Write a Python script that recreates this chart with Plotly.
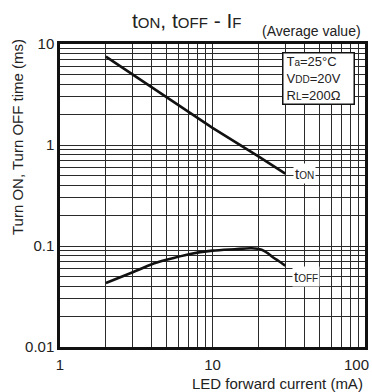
import plotly.graph_objects as go

# ---- data ----
current_on = [2, 5, 10, 20, 30]
t_on = [7.5, 3.0, 1.48, 0.77, 0.52]

current_off = [2, 3, 4, 5, 7, 10, 14, 18, 21, 23, 25, 27, 30]
t_off = [0.043, 0.055, 0.066, 0.073, 0.083, 0.090, 0.093, 0.095, 0.092, 0.085, 0.077, 0.0715, 0.064]

x_grid = [m * 10 ** d for d in range(0, 2) for m in range(1, 10)] + [100]
x_text = [str(v) if v in (1, 10) else "" for v in x_grid]
x_last_label = "100"
y_grid = [round(m * 10 ** d, 4) for d in range(-2, 1) for m in range(1, 10)] + [10]
y_labels = {0.01: "0.01", 0.1: "0.1", 1: "1", 10: "10"}
y_text = [y_labels.get(v, "") for v in y_grid]

FONT = "Liberation Sans, Arial, Helvetica, sans-serif"
GRID = "#2a2a2a"

fig = go.Figure()
fig.add_trace(go.Scatter(x=current_on, y=t_on, mode="lines",
                         line=dict(color="#111", width=2.6), showlegend=False))
fig.add_trace(go.Scatter(x=current_off, y=t_off, mode="lines",
                         line=dict(color="#111", width=2.6, shape="spline", smoothing=0.8),
                         showlegend=False))

fig.update_xaxes(type="log", range=[0, 2], tickvals=x_grid, ticktext=x_text,
                 showgrid=True, gridcolor=GRID, gridwidth=1,
                 showline=True, mirror=True, linecolor="#111", linewidth=2.5,
                 ticks="outside", ticklen=2, tickcolor="rgba(0,0,0,0)",
                 ticklabeloverflow="allow", automargin=False,
                 tickfont=dict(family=FONT, size=15, color="#222"),
                 zeroline=False)
fig.update_yaxes(type="log", range=[-2, 1], tickvals=y_grid, ticktext=y_text,
                 showgrid=True, gridcolor=GRID, gridwidth=1,
                 showline=True, mirror=True, linecolor="#111", linewidth=2.5,
                 ticks="", ticklabeloverflow="allow", automargin=False,
                 tickfont=dict(family=FONT, size=15, color="#222"),
                 zeroline=False)

s = lambda t, sz: f"<span style='font-size:{sz}px'>{t}</span>"

annotations = [
    # last x tick label, kept inside the page
    dict(x=1.0, y=-0.0594, xref="paper", yref="paper", showarrow=False,
         text=x_last_label, font=dict(family=FONT, size=15, color="#222"),
         xanchor="right", yanchor="middle", xshift=6),
    # title
    dict(x=0.415, y=1.079, xref="paper", yref="paper", showarrow=False,
         text="t" + s("ON", 15) + ", t" + s("OFF", 15) + " - I" + s("F", 15),
         font=dict(family=FONT, size=21, color="#222"), xanchor="center", yanchor="middle"),
    dict(x=0.825, y=1.043, xref="paper", yref="paper", showarrow=False,
         text="(Average value)", font=dict(family=FONT, size=14, color="#222"),
         xanchor="center", yanchor="middle"),
    # axis titles
    dict(x=-0.141, y=0.693, xref="paper", yref="paper", showarrow=False,
         text="Turn ON, Turn OFF time (ms)", textangle=-90,
         font=dict(family=FONT, size=15, color="#222"), xanchor="center", yanchor="middle"),
    dict(x=1.0, y=-0.122, xref="paper", yref="paper", showarrow=False,
         text="LED forward current (mA)", font=dict(family=FONT, size=15, color="#222"),
         xanchor="right", yanchor="middle"),
    # condition box
    dict(x=0.846, y=0.8845, xref="paper", yref="paper", showarrow=False,
         text="T" + s("a", 10) + "=25°C<br>V" + s("DD", 10) + "=20V<br>R" + s("L", 10) + "=200Ω",
         align="left", font=dict(family=FONT, size=13, color="#222"),
         bgcolor="white", bordercolor="#111", borderwidth=1.5, borderpad=3,
         width=64, height=44, xanchor="center", yanchor="middle"),
    # curve labels
    dict(x=0.803, y=0.574, xref="paper", yref="paper", showarrow=False,
         text="t" + s("ON", 10), font=dict(family=FONT, size=15, color="#222"),
         bgcolor="white", borderpad=1, xanchor="center", yanchor="middle"),
    dict(x=0.807, y=0.232, xref="paper", yref="paper", showarrow=False,
         text="t" + s("OFF", 10), font=dict(family=FONT, size=15, color="#222"),
         bgcolor="white", borderpad=1, xanchor="center", yanchor="middle"),
]

fig.update_layout(width=372, height=392, margin=dict(l=60, r=7, t=44, b=45),
                  paper_bgcolor="white", plot_bgcolor="white",
                  annotations=annotations, showlegend=False)

fig.write_html("out.html")
